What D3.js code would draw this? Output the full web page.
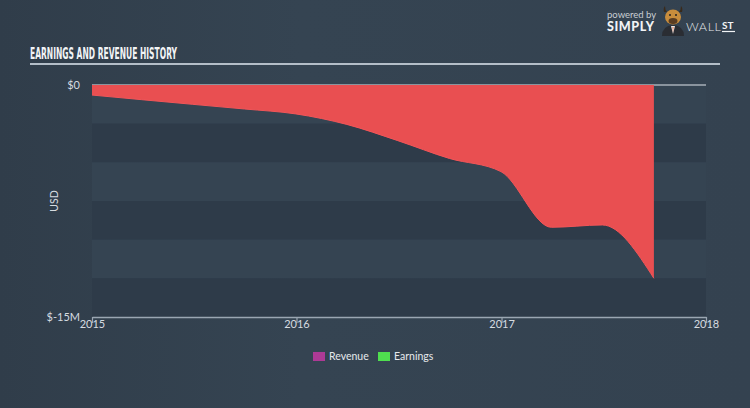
<!DOCTYPE html>
<html>
<head>
<meta charset="utf-8">
<script src="https://cdn.jsdelivr.net/npm/d3@7"></script>
<style>
html,body{margin:0;padding:0;background:#344351;}
svg{display:block;}
</style>
</head>
<body>
<svg id="chart" width="750" height="408"></svg>
<script>
// ---- data ----
const earningsDates = ["2015-01-01","2015-03-31","2015-06-30","2015-09-30","2015-12-31","2016-03-31","2016-06-30","2016-09-30","2016-12-31","2017-03-31","2017-06-30","2017-09-30"];
const earningsValues = [-0.65e6,-0.95e6,-1.25e6,-1.55e6,-1.87e6,-2.55e6,-3.6e6,-4.75e6,-5.6e6,-9.2e6,-9.05e6,-12.5e6];
const revenueDates = ["2015-01-01","2018-01-01"];
const revenueValues = [0,0];
const xTickLabels = ["2015","2016","2017","2018"];
const yTickValues = [0,-15e6];
const yTickLabels = ["$0","$-15M"];
const legendLabels = ["Revenue","Earnings"];
const legendColors = ["#ad3a95","#4fdf4f"];

const parse = d3.timeParse("%Y-%m-%d");
const svg = d3.select("#chart");

// background gradient
const defs = svg.append("defs");
const bg = defs.append("linearGradient").attr("id","bg").attr("x1","0").attr("x2","1").attr("y1","0").attr("y2","0");
bg.append("stop").attr("offset","0%").attr("stop-color","#303d4a");
bg.append("stop").attr("offset","40%").attr("stop-color","#354452");
bg.append("stop").attr("offset","100%").attr("stop-color","#344250");
svg.append("rect").attr("width",750).attr("height",408).attr("fill","url(#bg)");

const x = d3.scaleTime().domain([parse("2015-01-01"), parse("2018-01-01")]).range([92, 706]);
const y = d3.scaleLinear().domain([-15e6, 0]).range([317, 85]);

// bands
const bandStep = 2.5e6;
const bands = d3.range(0, 6);
svg.append("g").selectAll("rect").data(bands).join("rect")
  .attr("x", x.range()[0]).attr("width", x.range()[1]-x.range()[0])
  .attr("y", d => y(-d*bandStep)).attr("height", d => y(-(d+1)*bandStep) - y(-d*bandStep))
  .attr("fill", d => d % 2 === 1 ? "#2e3b49" : "#354452");

// revenue line (zero)
const revData = revenueDates.map((d,i)=>({date:parse(d), value:revenueValues[i]}));
svg.append("path").datum(revData)
  .attr("d", d3.line().x(d=>x(d.date)).y(d=>y(d.value)))
  .attr("stroke","#8a949e").attr("stroke-width",2).attr("fill","none");

// earnings area
const earnData = earningsDates.map((d,i)=>({date:parse(d), value:earningsValues[i]}));
svg.append("path").datum(earnData)
  .attr("d", d3.area().curve(d3.curveMonotoneX).x(d=>x(d.date)).y0(y(0)).y1(d=>y(d.value)))
  .attr("fill","#e94f51");
svg.append("path").datum(earnData)
  .attr("d", d3.line().curve(d3.curveMonotoneX).x(d=>x(d.date)).y(d=>y(d.value)))
  .attr("fill","none").attr("stroke","#f25558").attr("stroke-width",1);

// x axis
const xTickDates = xTickLabels.map(t => parse(t + "-01-01"));
const xAxis = d3.axisBottom(x).tickValues(xTickDates).tickFormat((d,i)=>xTickLabels[i]).tickSize(6).tickSizeOuter(0);
const gx = svg.append("g").attr("transform","translate(0,317)").call(xAxis);
gx.select(".domain").attr("stroke","#9aa6b2").attr("stroke-width",1.5);
gx.selectAll(".tick line").attr("stroke","#9aa6b2").attr("stroke-width",1.2);
gx.selectAll(".tick text").attr("fill","#d6dbe0").attr("font-family","Lato, 'Open Sans', sans-serif").attr("font-size",11).attr("dy","0.52em").attr("y",5);

// y axis labels
const yAxis = d3.axisLeft(y).tickValues(yTickValues).tickFormat((d,i)=>yTickLabels[i]).tickSize(0).tickPadding(0);
const gy = svg.append("g").attr("transform","translate(80,0)").call(yAxis);
gy.select(".domain").remove();
gy.selectAll(".tick text").attr("fill","#d6dbe0").attr("font-family","Lato, 'Open Sans', sans-serif").attr("font-size",11);

// USD label
svg.append("text").attr("transform","translate(58,201) rotate(-90)")
  .attr("text-anchor","middle").attr("fill","#d6dbe0")
  .attr("font-family","Lato, 'Open Sans', sans-serif").attr("font-size",10.5).text("USD");

// title
svg.append("text").attr("x",30).attr("y",59)
  .attr("fill","#f2f4f6").attr("font-family","'Liberation Sans Narrow','DejaVu Sans Condensed',sans-serif")
  .attr("font-weight","bold").attr("font-size",16)
  .attr("textLength",147).attr("lengthAdjust","spacingAndGlyphs")
  .text("EARNINGS AND REVENUE HISTORY");
svg.append("line").attr("x1",30).attr("x2",720).attr("y1",64).attr("y2",64)
  .attr("stroke","#b4bec8").attr("stroke-width",1.8);

// legend
const lg = svg.append("g");
const legendX = [313, 378];
legendLabels.forEach((lab,i)=>{
  lg.append("rect").attr("x",legendX[i]).attr("y",352).attr("width",12).attr("height",9).attr("fill",legendColors[i]);
  lg.append("text").attr("x",legendX[i]+16).attr("y",360).attr("fill","#e6e9ec")
    .attr("font-family","Lato, 'Open Sans', sans-serif").attr("font-size",10.5).text(lab);
});

// logo
const logo = svg.append("g");
logo.append("text").attr("x",607).attr("y",18).attr("fill","#c9ced4")
  .attr("font-family","Lato, sans-serif").attr("font-size",9.5).text("powered by");
logo.append("text").attr("x",607).attr("y",31).attr("fill","#f2f4f6")
  .attr("font-family","Lato, sans-serif").attr("font-weight","900").attr("font-size",12.5).attr("letter-spacing",0.6).text("SIMPLY");
logo.append("text").attr("x",686).attr("y",31).attr("fill","#e6e9ec")
  .attr("font-family","Lato, sans-serif").attr("font-weight","300").attr("font-size",12.5).attr("letter-spacing",0.6).text("WALL");
logo.append("text").attr("x",722).attr("y",29).attr("fill","#f2f4f6")
  .attr("font-family","Lato, sans-serif").attr("font-weight","bold").attr("font-size",10).text("ST");
logo.append("line").attr("x1",722).attr("x2",735).attr("y1",31.5).attr("y2",31.5).attr("stroke","#f2f4f6").attr("stroke-width",1.2);
// bull icon
logo.append("path").attr("d","M662,36 Q662,26 673,25 Q684,26 684,36 Z").attr("fill","#2a2d33");
logo.append("path").attr("d","M671,26 L673,34 L675,26 Z").attr("fill","#e8e8e8");
logo.append("path").attr("d","M672.5,27 L673,33 L673.5,27 Z").attr("fill","#e05a2a");
logo.append("path").attr("d","M664,12 Q663,8 665,6 Q665,10 667,12 Z").attr("fill","#3a2a1a");
logo.append("path").attr("d","M682,12 Q683,8 681,6 Q681,10 679,12 Z").attr("fill","#3a2a1a");
logo.append("ellipse").attr("cx",673).attr("cy",17).attr("rx",8).attr("ry",7.5).attr("fill","#c98d3c");
logo.append("ellipse").attr("cx",673).attr("cy",21).attr("rx",4.5).attr("ry",3).attr("fill","#5a3d22");
logo.append("circle").attr("cx",670).attr("cy",15).attr("r",1).attr("fill","#222");
logo.append("circle").attr("cx",676).attr("cy",15).attr("r",1).attr("fill","#222");
</script>
</body>
</html>
